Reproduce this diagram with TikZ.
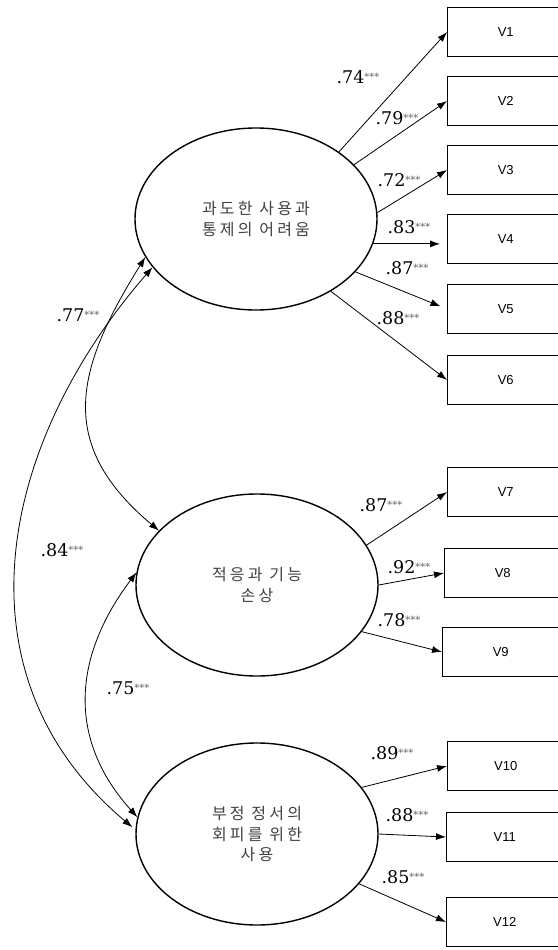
\documentclass[tikz,border=0pt]{standalone}
\usepackage{fontspec}
\usetikzlibrary{arrows.meta,positioning,shapes.geometric}
\newfontfamily\kofont[LetterSpace=20]{Noto Sans CJK KR}
\newfontfamily\numfont{DejaVu Serif}
\setsansfont{Liberation Sans}
\newcommand{\stars}{\raisebox{2.5pt}{\fontsize{10}{10}\selectfont\color{black!60}***}}

\begin{document}
\begin{tikzpicture}[x=1pt,y=-1pt,
  lat/.style={ellipse,draw,line width=1.4pt,minimum width=242pt,minimum height=182pt,inner sep=0pt,align=center,text=black!75,font=\kofont\fontsize{16}{20.5}\selectfont},
  obs/.style={draw,line width=1.4pt,anchor=west,minimum width=116pt,minimum height=49pt,inner sep=0pt,font=\sffamily\fontsize{13}{15}\selectfont},
  coef/.style={inner sep=0pt,font=\numfont\fontsize{17.5}{21}\selectfont},
  ar/.style={-{Latex[length=10pt,width=7pt]},line width=0.8pt},
  cov/.style={{Latex[length=10pt,width=7pt]}-{Latex[length=10pt,width=7pt]},line width=0.8pt}]

\useasboundingbox (0,0) rectangle (557,950);

% latent factors
\node[lat] (e1) at (256,219) {과도한 사용과\\통제의 어려움};
\node[lat] (e2) at (257,585) {적응과 기능\\손상};
\node[lat] (e3) at (257,834) {부정 정서의\\회피를 위한\\사용};

% indicators
\node[obs] (v1) at (447,32) {V1};
\node[obs] (v2) at (447,101) {V2};
\node[obs] (v3) at (447,170) {V3};
\node[obs] (v4) at (447,239) {V4};
\node[obs] (v5) at (447,309) {V5};
\node[obs] (v6) at (447,380) {V6};
\node[obs] (v7) at (447,492) {V7};
\node[obs] (v8) at (444,573) {V8};
\node[obs] (v9) at (442,652) {V9};
\node[obs] (v10) at (447,766) {V10};
\node[obs] (v11) at (446,837) {V11};
\node[obs] (v12) at (446,922) {V12};

% loadings
\draw[ar] (e1.39) -- (v1.west);
\draw[ar] (e1.29) -- (v2.west);
\draw[ar] (e1.3) -- (v3.west);
\draw[ar,shorten >=7pt] (e1.-12) -- (e1.-12 -| v4.west);
\draw[ar,shorten >=7pt] (e1.-28) -- (v5.west);
\draw[ar] (e1.-44) -- (v6.west);
\draw[ar] (e2.20) -- (v7.west);
\draw[ar] (e2.0) -- (v8.west);
\draw[ar] (e2.-24) -- (v9.west);
\draw[ar] (e3.24) -- (v10.west);
\draw[ar] (e3.0) -- (v11.west);
\draw[ar] (e3.-26) -- (v12.west);

\node[coef] (l1) at (358,77) {.74\stars};
\node[coef] (l2) at (397,118) {.79\stars};
\node[coef] (l3) at (399,180) {.72\stars};
\node[coef] (l4) at (409,227) {.83\stars};
\node[coef] (l5) at (407,268) {.87\stars};
\node[coef] (l6) at (398,318) {.88\stars};
\node[coef] (l7) at (381,505) {.87\stars};
\node[coef] (l8) at (409,567) {.92\stars};
\node[coef] (l9) at (399,620) {.78\stars};
\node[coef] (l10) at (392,753) {.89\stars};
\node[coef] (l11) at (407,815) {.88\stars};
\node[coef] (l12) at (403,877) {.85\stars};

% correlations
\draw[cov] (e1.199) to[out=238,in=140,looseness=1.25] (e2.151);
\draw[cov,shorten >=4pt] (e1.205) to[out=229,in=140,looseness=1.08] (e3.178);
\draw[cov] (e2.174) to[out=233,in=132,looseness=1.1] (e3.172);

\node[coef] (r12) at (78,315) {.77\stars};
\node[coef] (r13) at (62,550) {.84\stars};
\node[coef] (r23) at (128,688) {.75\stars};
\end{tikzpicture}
\end{document}
